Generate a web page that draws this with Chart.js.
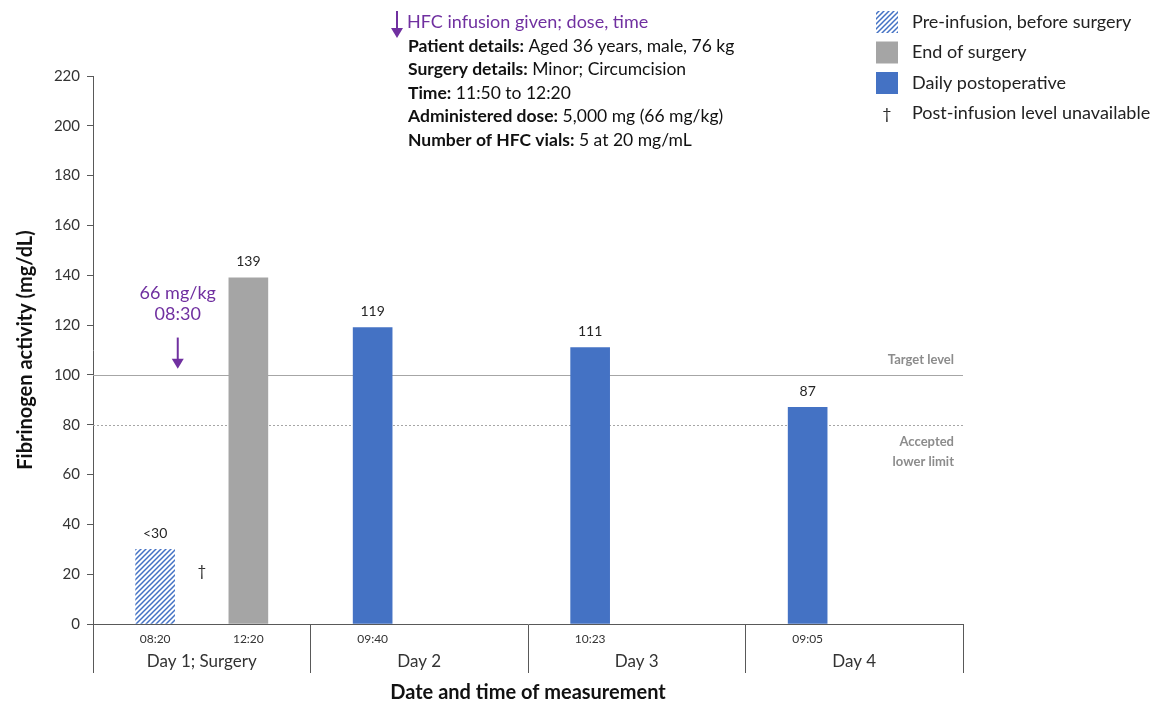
<!DOCTYPE html>
<html>
<head>
<meta charset="utf-8">
<script src="https://cdn.jsdelivr.net/npm/chart.js@4"></script>
<style>
  html, body { margin: 0; padding: 0; background: #fff; }
  #wrap { width: 1150px; height: 705px; }
</style>
</head>
<body>
<div id="wrap"><canvas id="chart" width="1150" height="705"></canvas></div>
<script>
// data
const days = ["Day 1; Surgery", "Day 2", "Day 3", "Day 4"];
const measureDay = [0, 0, 1, 2, 3];
const measureTimes = ["08:20", "12:20", "09:40", "10:23", "09:05"];
const measureValues = [30, 139, 119, 111, 87];
const valueLabels = ["<30", "139", "119", "111", "87"];
const measureKind = ["pre", "end", "post", "post", "post"];
const yTicks = [0, 20, 40, 60, 80, 100, 120, 140, 160, 180, 200, 220];
const targetLevel = 100;
const lowerLimit = 80;
const infusionDose = ["66 mg/kg", "08:30"];
const legendLabels = ["Pre-infusion, before surgery", "End of surgery", "Daily postoperative", "Post-infusion level unavailable"];
const infoLines = [
  ["Patient details:", " Aged 36 years, male, 76 kg"],
  ["Surgery details:", " Minor; Circumcision"],
  ["Time:", " 11:50 to 12:20"],
  ["Administered dose:", " 5,000 mg (66 mg/kg)"],
  ["Number of HFC vials:", " 5 at 20 mg/mL"]
];

const BLUE = "#4472C4", GREY = "#A5A5A5", PURPLE = "#7030A0", AXIS = "#595959";
const FONT = "Lato, 'Open Sans', sans-serif";

// hatch pattern for pre-infusion bar
function hatch() {
  const c = document.createElement("canvas");
  c.width = 5; c.height = 5;
  const g = c.getContext("2d");
  g.fillStyle = "#fff"; g.fillRect(0, 0, 5, 5);
  g.strokeStyle = BLUE; g.lineWidth = 1.5;
  g.beginPath();
  g.moveTo(0, 5); g.lineTo(5, 0);
  g.moveTo(-2.5, 2.5); g.lineTo(2.5, -2.5);
  g.moveTo(2.5, 7.5); g.lineTo(7.5, 2.5);
  g.stroke();
  return g.createPattern(c, "repeat");
}
const hatchFill = hatch();
const kindColor = { pre: hatchFill, end: GREY, post: BLUE };

// position within each day: single measurement at 2/7, two at 2/7 and 5/7
function xPositions() {
  const out = [];
  const seen = {};
  measureDay.forEach(d => {
    const k = seen[d] || 0;
    seen[d] = k + 1;
    out.push(d + (k === 0 ? 2 / 7 : 5 / 7));
  });
  return out;
}
const xs = xPositions();

const annotations = {
  id: "annotations",
  beforeDatasetsDraw(chart) {
    const { ctx, chartArea: a, scales: { y } } = chart;
    ctx.save();
    // target level
    ctx.strokeStyle = "#A6A6A6"; ctx.lineWidth = 1.2;
    ctx.beginPath();
    ctx.moveTo(a.left, Math.round(y.getPixelForValue(targetLevel)) + 0.5);
    ctx.lineTo(a.right, Math.round(y.getPixelForValue(targetLevel)) + 0.5);
    ctx.stroke();
    // accepted lower limit
    ctx.strokeStyle = "#A6A6A6"; ctx.lineWidth = 1;
    ctx.setLineDash([2, 2]);
    ctx.beginPath();
    ctx.moveTo(a.left, Math.round(y.getPixelForValue(lowerLimit)) + 0.5);
    ctx.lineTo(a.right, Math.round(y.getPixelForValue(lowerLimit)) + 0.5);
    ctx.stroke();
    ctx.restore();
  },
  afterDraw(chart) {
    const { ctx, chartArea: a, scales: { x, y } } = chart;
    ctx.save();
    // reference line labels
    ctx.fillStyle = "#8C8C8C";
    ctx.font = "bold 13px " + FONT;
    ctx.textAlign = "right";
    ctx.textBaseline = "middle";
    ctx.fillText("Target level", a.right - 9, y.getPixelForValue(targetLevel) - 15);
    ctx.fillText("Accepted", a.right - 9, y.getPixelForValue(lowerLimit) + 17);
    ctx.fillText("lower limit", a.right - 9, y.getPixelForValue(lowerLimit) + 37);

    // value labels above bars
    ctx.fillStyle = "#262626";
    ctx.font = "14px " + FONT;
    ctx.textAlign = "center";
    xs.forEach((v, i) => {
      ctx.fillText(valueLabels[i], x.getPixelForValue(v), y.getPixelForValue(measureValues[i]) - 16);
    });
    // dagger
    ctx.font = "15px " + FONT;
    ctx.fillText("\u2020", x.getPixelForValue(0.5), y.getPixelForValue(20) - 3);

    // times and days under axis
    ctx.fillStyle = "#333";
    ctx.font = "12px " + FONT;
    xs.forEach((v, i) => {
      ctx.fillText(measureTimes[i], x.getPixelForValue(v), a.bottom + 15);
    });
    ctx.font = "17px " + FONT;
    days.forEach((d, i) => {
      ctx.fillText(d, x.getPixelForValue(i + 0.5), a.bottom + 38);
    });

    // infusion arrow on day 1
    const ax = x.getPixelForValue(0.5) - 24;
    ctx.fillStyle = PURPLE;
    ctx.font = "18px " + FONT;
    ctx.fillText(infusionDose[0], ax, y.getPixelForValue(133));
    ctx.fillText(infusionDose[1], ax, y.getPixelForValue(124.5));
    drawArrow(ctx, ax, y.getPixelForValue(115), y.getPixelForValue(102.5));

    // info block
    drawArrow(ctx, 397, 11, 38);
    ctx.textAlign = "left";
    ctx.fillStyle = PURPLE;
    ctx.font = "18px " + FONT;
    ctx.fillText("HFC infusion given; dose, time", 407, 22);
    infoLines.forEach((ln, i) => {
      const yy = 46 + i * 23.5;
      ctx.fillStyle = "#111";
      ctx.font = "bold 17.5px " + FONT;
      ctx.fillText(ln[0], 408, yy);
      const w = ctx.measureText(ln[0]).width;
      ctx.font = "17.5px " + FONT;
      ctx.fillText(ln[1], 408 + w, yy);
    });

    // legend
    const fills = [hatchFill, GREY, BLUE];
    legendLabels.forEach((t, i) => {
      const ly = 22 + i * 30.5;
      if (i < 3) {
        ctx.fillStyle = fills[i];
        ctx.fillRect(876, ly - 11, 22, 22);
      } else {
        ctx.fillStyle = "#222";
        ctx.font = "16px " + FONT;
        ctx.textAlign = "center";
        ctx.fillText("\u2020", 887, ly);
      }
      ctx.textAlign = "left";
      ctx.fillStyle = "#222";
      ctx.font = "18px " + FONT;
      ctx.fillText(t, 912, ly);
    });
    ctx.restore();
  }
};

function drawArrow(ctx, x0, y0, y1) {
  ctx.save();
  ctx.strokeStyle = PURPLE;
  ctx.fillStyle = PURPLE;
  ctx.lineWidth = 2;
  ctx.beginPath();
  ctx.moveTo(x0, y0);
  ctx.lineTo(x0, y1 - 8);
  ctx.stroke();
  ctx.beginPath();
  ctx.moveTo(x0 - 6, y1 - 10);
  ctx.lineTo(x0 + 6, y1 - 10);
  ctx.lineTo(x0, y1);
  ctx.closePath();
  ctx.fill();
  ctx.restore();
}

new Chart(document.getElementById("chart"), {
  type: "bar",
  data: {
    datasets: [{
      data: xs.map((v, i) => ({ x: v, y: measureValues[i] })),
      backgroundColor: measureKind.map(k => kindColor[k]),
      barThickness: 39,
      borderWidth: 0
    }]
  },
  plugins: [annotations],
  options: {
    responsive: false,
    animation: false,
    layout: { padding: { left: 0, right: 187, top: 76, bottom: 0 } },
    plugins: { legend: { display: false }, tooltip: { enabled: false } },
    scales: {
      x: {
        type: "linear",
        min: 0,
        max: days.length,
        offset: false,
        afterFit: s => { s.height = 81; },
        afterBuildTicks: s => { s.ticks = days.map((d, i) => ({ value: i })).concat([{ value: days.length }]); },
        ticks: { callback: () => "", padding: 0 },
        grid: { offset: false, drawOnChartArea: false, drawTicks: true, tickLength: 49, color: AXIS, lineWidth: 1 },
        border: { display: true, color: AXIS, width: 1 },
        title: {
          display: true,
          text: "Date and time of measurement",
          font: { family: FONT, size: 20, weight: "bold" },
          color: "#111",
          padding: { top: 0, bottom: 0 }
        }
      },
      y: {
        min: 0,
        max: 220,
        afterFit: s => { s.width = 93; },
        afterBuildTicks: s => { s.ticks = yTicks.map(v => ({ value: v })); },
        ticks: { font: { family: FONT, size: 15 }, color: "#333", padding: 7 },
        grid: { drawOnChartArea: false, drawTicks: true, tickLength: 6, color: AXIS },
        border: { display: true, color: AXIS, width: 1 },
        title: {
          display: true,
          text: "Fibrinogen activity (mg/dL)",
          font: { family: FONT, size: 20, weight: "bold" },
          color: "#111",
          padding: { top: 14, bottom: 6 }
        }
      }
    }
  }
});
</script>
</body>
</html>
